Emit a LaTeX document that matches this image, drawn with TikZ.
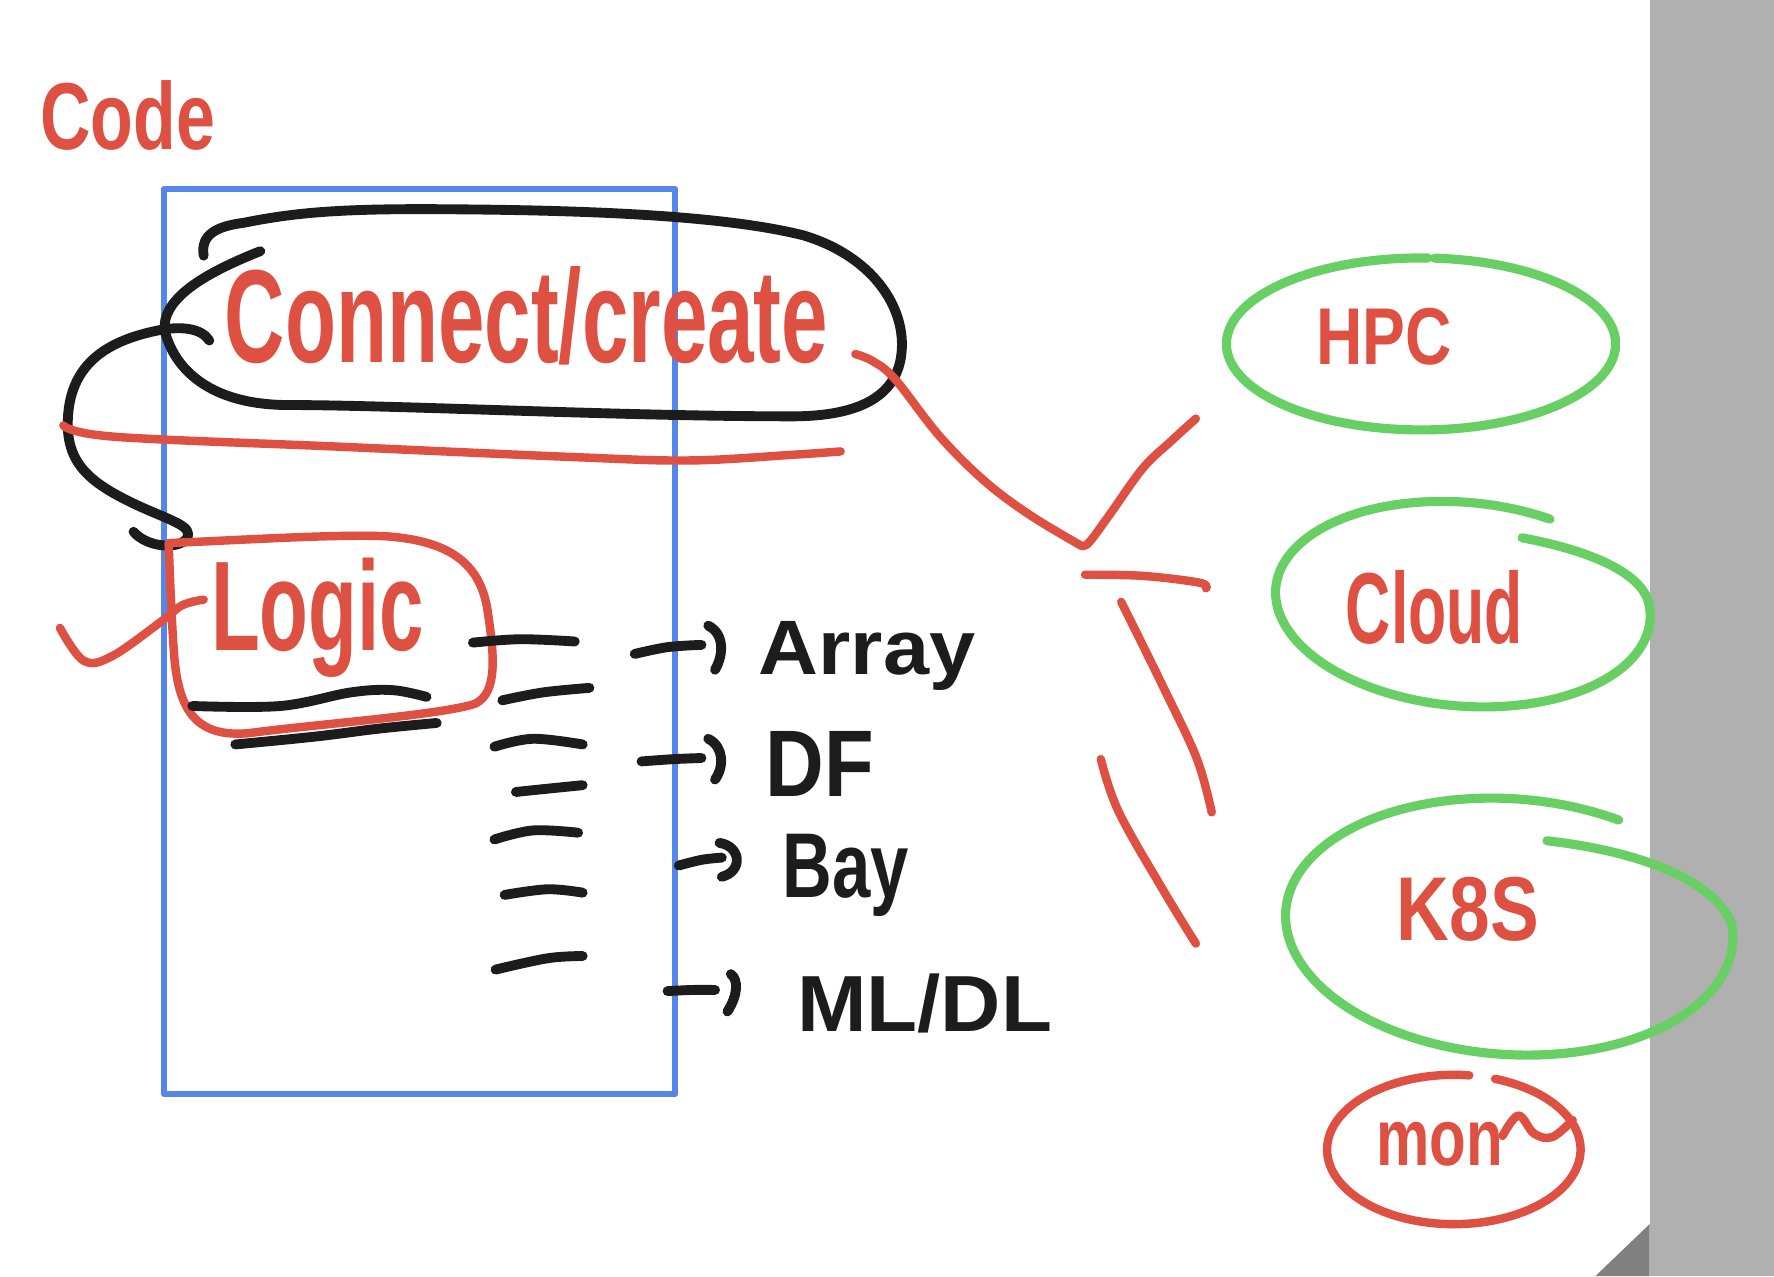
\documentclass[tikz,border=0pt]{standalone}
\usepackage{fontspec}
\setmainfont{Liberation Sans}
\usepackage{graphicx}
\definecolor{hwred}{RGB}{221,80,66}
\definecolor{hwgreen}{RGB}{104,207,100}
\definecolor{hwblue}{RGB}{85,135,235}
\definecolor{hwblack}{RGB}{28,28,28}
\definecolor{bargray}{RGB}{176,176,176}
\definecolor{cornergray}{RGB}{128,128,128}
\begin{document}
\begin{tikzpicture}[x=0.011314cm,y=-0.011314cm,line cap=round,line join=round,
  redline/.style={draw=hwred,line width=2.4pt},
  blackline/.style={draw=hwblack,line width=2.8pt},
  greenline/.style={draw=hwgreen,line width=2.6pt},
  blueline/.style={draw=hwblue,line width=1.7pt},
  redtxt/.style={inner sep=0pt,anchor=base west,text=hwred,font=\bfseries},
  blacktxt/.style={inner sep=0pt,anchor=base west,text=hwblack,font=\bfseries}]
\useasboundingbox (0,0) rectangle (1568,1128);
% gray margin
\fill[bargray] (1458,0) rectangle (1568,1128);
\fill[cornergray] (1410,1128) -- (1458,1082) -- (1458,1128) -- cycle;

% blue frame
\draw[blueline] (145,167) rectangle (597,967);

% texts
\node[redtxt] (code) at (35,132) {\resizebox{49.7pt}{19.6pt}{Code}};
\node[redtxt] (connect) at (198,320) {\resizebox{171.6pt}{27.3pt}{Connect/create}};
\node[redtxt] (logic) at (186,575) {\resizebox{60.6pt}{26.3pt}{Logic}};
\node[blacktxt] (array) at (670,596) {\resizebox{61.6pt}{15.1pt}{Array}};
\node[blacktxt] (df) at (676,704) {\resizebox{30.8pt}{18.5pt}{DF}};
\node[blacktxt] (bay) at (691,793) {\resizebox{35.9pt}{18pt}{Bay}};
\node[blacktxt] (mldl) at (704,912) {\resizebox{72.5pt}{16.4pt}{ML/DL}};
\node[redtxt] (hpc) at (1163,322) {\resizebox{38.5pt}{16pt}{HPC}};
\node[redtxt] (cloud) at (1189,569) {\resizebox{50.4pt}{20.8pt}{Cloud}};
\node[redtxt] (k8s) at (1234,831) {\resizebox{40.4pt}{18pt}{K8S}};
\node[redtxt] (mon) at (1216,1030) {\resizebox{36pt}{12.3pt}{mon}};

% black loop around Connect/create
\draw[blackline] (180,226) .. controls (177,207) and (192,200) .. (215,197)
  .. controls (260,188) and (300,184) .. (400,185)
  .. controls (550,186) and (650,193) .. (710,208)
  .. controls (770,226) and (800,270) .. (797,310)
  .. controls (794,350) and (760,368) .. (700,368)
  .. controls (550,368) and (350,358) .. (255,358)
  .. controls (190,358) and (156,330) .. (146,294)
  .. controls (140,262) and (190,238) .. (230,222);
% black S curve down to Logic
\draw[blackline] (185,301) .. controls (178,290) and (160,288) .. (140,292)
  .. controls (90,302) and (62,325) .. (60,370)
  .. controls (58,410) and (80,427) .. (120,446)
  .. controls (150,460) and (172,465) .. (165,476)
  .. controls (158,486) and (130,484) .. (118,470);
% red separator line
\draw[redline] plot[smooth,tension=0.6] coordinates {(56,376) (101,386) (304,395) (507,404) (609,407) (700,402) (743,399)};

% red sketch lines to the right
\draw[redline] plot[smooth,tension=0.6] coordinates {(756,313) (771,319) (791,335) (830,385) (870,425) (910,455) (955,482)};
\draw[redline] plot[smooth,tension=0.6] coordinates {(955,482) (962,480) (980,456) (1010,414) (1035,390) (1057,370)};
\draw[redline] plot[smooth,tension=0.6] coordinates {(959,508) (1010,509) (1060,515) (1066,520)};
\draw[redline] plot[smooth,tension=0.6] coordinates {(991,532) (1030,611) (1058,671) (1071,718)};
\draw[redline] plot[smooth,tension=0.6] coordinates {(973,671) (989,718) (1030,790) (1057,834)};

% Logic box and check mark
\draw[redline] (149,480) .. controls (220,477) and (300,472) .. (341,474)
  .. controls (400,478) and (425,500) .. (431,540)
  .. controls (437,580) and (440,612) .. (420,622)
  .. controls (390,632) and (280,640) .. (220,648)
  .. controls (175,652) and (158,630) .. (154,580)
  .. controls (151,540) and (150,500) .. (149,480);
\draw[redline] plot[smooth,tension=0.6] coordinates {(53,555) (74,584) (99,580) (143,549) (161,535) (180,530)};

% black underlines
\draw[blackline] plot[smooth,tension=0.6] coordinates {(170,624) (248,624) (310,612) (347,610) (377,616)};
\draw[blackline] plot[smooth,tension=0.6] coordinates {(208,658) (279,651) (335,644) (386,639)};

% dashes
\draw[blackline] plot[smooth,tension=0.6] coordinates {(418,568) (460,565) (508,567)};
\draw[blackline] plot[smooth,tension=0.6] coordinates {(444,619) (480,612) (521,608)};
\draw[blackline] plot[smooth,tension=0.6] coordinates {(437,660) (471,653) (515,658)};
\draw[blackline] plot[smooth,tension=0.6] coordinates {(456,700) (485,697) (515,694)};
\draw[blackline] plot[smooth,tension=0.6] coordinates {(437,742) (471,734) (511,736)};
\draw[blackline] plot[smooth,tension=0.6] coordinates {(446,791) (484,786) (515,789)};
\draw[blackline] plot[smooth,tension=0.6] coordinates {(438,857) (484,847) (515,845)};

% hand-drawn arrows
\draw[blackline] plot[smooth,tension=0.6] coordinates {(561,578) (590,572) (620,570)};
\draw[blackline] (626,553) .. controls (640,560) and (640,578) .. (632,592);
\draw[blackline] plot[smooth,tension=0.6] coordinates {(567,673) (595,671) (620,670)};
\draw[blackline] (626,653) .. controls (640,660) and (640,678) .. (632,689);
\draw[blackline] plot[smooth,tension=0.6] coordinates {(600,765) (620,760) (638,758)};
\draw[blackline] (636,745) .. controls (655,748) and (657,770) .. (638,775);
\draw[blackline] plot[smooth,tension=0.6] coordinates {(590,876) (612,875) (632,875)};
\draw[blackline] (646,861) .. controls (653,866) and (652,880) .. (643,894);

% green ellipses
\draw[greenline] (1256,304) ++(274:172 and 76) arc[start angle=274,end angle=632,x radius=172,y radius=76];
\begin{scope}[rotate around={-5:(1293,534)}]
\draw[greenline] (1293,534) ++(295:166 and 90) arc[start angle=295,end angle=-10,x radius=166,y radius=90]
  .. controls (1447,492) and (1400,477) .. (1340,471);
\end{scope}
\begin{scope}[rotate around={-4:(1334,819)}]
\draw[greenline] (1334,819) ++(297:198 and 113) arc[start angle=297,end angle=-8,x radius=198,y radius=113]
  .. controls (1515,770) and (1455,745) .. (1362,741);
\end{scope}

% red ellipse around mon
\draw[redline] (1285,1016) ++(289:112 and 66) arc[start angle=289,end angle=637,x radius=112,y radius=66];
\draw[redline] plot[smooth,tension=0.6] coordinates {(1328,1004) (1342,986) (1356,1002) (1372,1005) (1390,990)};
\end{tikzpicture}
\end{document}
